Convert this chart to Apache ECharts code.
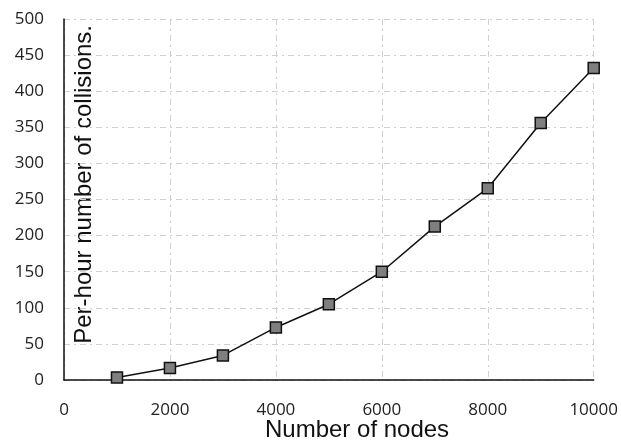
<!DOCTYPE html>
<html><head><meta charset="utf-8">
<script src="https://cdn.jsdelivr.net/npm/echarts@6/dist/echarts.min.js"></script>
<style>html,body{margin:0;padding:0;background:#fff}#c{width:621px;height:446px}</style>
</head><body><div id="c"></div>
<script>
const nodes = [1000, 2000, 3000, 4000, 5000, 6000, 7000, 8000, 9000, 10000];
const collisions = [3.6, 16.5, 34, 72.8, 105, 150, 212.5, 265.5, 356, 432];
const xTitle = 'Number of nodes';
const yTitle = 'Per-hour number of collisions.';

const chart = echarts.init(document.getElementById('c'), null, {renderer: 'canvas'});
const gridLine = {show: true, lineStyle: {color: '#d0d0d0', width: 1, type: [6, 4, 2, 4]}};
chart.setOption({
  animation: false,
  grid: {left: 64, right: 27, top: 19, bottom: 66},
  xAxis: {
    type: 'value', min: 0, max: 10000, interval: 2000,
    axisLine: {show: true, onZero: false, lineStyle: {color: '#111', width: 1.5}},
    axisTick: {show: false},
    axisLabel: {fontFamily: 'Open Sans', fontSize: 17, color: '#222', margin: 22, formatter: v => String(v)},
    splitLine: gridLine
  },
  yAxis: {
    type: 'value', min: 0, max: 500, interval: 50,
    axisLine: {show: true, lineStyle: {color: '#111', width: 1.5}},
    axisTick: {show: false},
    axisLabel: {fontFamily: 'Open Sans', fontSize: 17, color: '#222', margin: 20, formatter: v => String(v)},
    splitLine: gridLine
  },
  graphic: [{
    type: 'text', left: 72, top: 25, rotation: Math.PI / 2,
    style: {text: yTitle, fontFamily: 'Liberation Sans', fontSize: 24, fill: '#111'}
  }, {
    type: 'text', left: 265, top: 418,
    style: {text: xTitle, fontFamily: 'Liberation Sans', fontSize: 24, fill: '#111'}
  }],
  series: [{
    type: 'line',
    data: nodes.map((x, i) => [x, collisions[i]]),
    symbol: 'rect', symbolSize: 11,
    lineStyle: {color: '#111', width: 1.5},
    itemStyle: {color: '#7f7f7f', borderColor: '#111', borderWidth: 1.5},
    z: 3
  }]
});
</script></body></html>
